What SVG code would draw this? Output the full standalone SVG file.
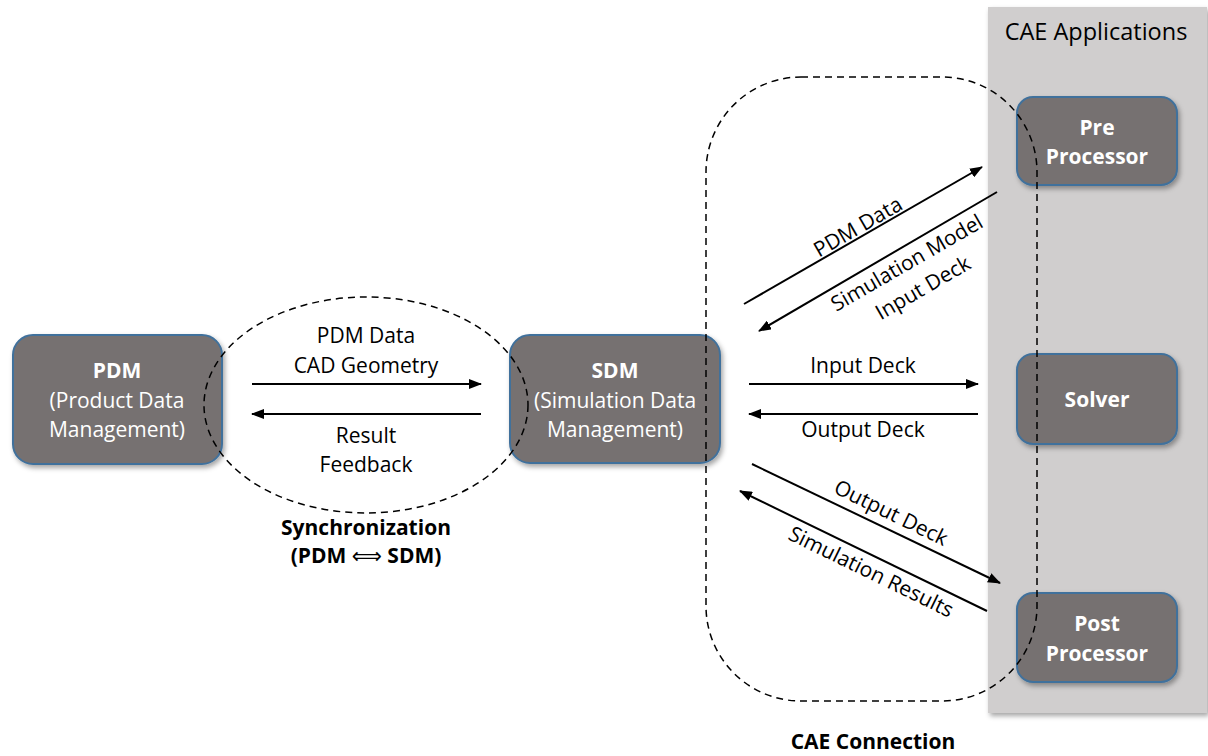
<svg xmlns="http://www.w3.org/2000/svg" width="1208" height="756" viewBox="0 0 1208 756">
<style>
text{font-family:"Open Sans","Liberation Sans",sans-serif;font-size:21px;fill:#000;text-anchor:middle}
.w{fill:#fff}
.b{font-weight:bold}
.box{fill:#767171;stroke:#41719C;stroke-width:2}
.ln{stroke:#000;stroke-width:2;fill:none;marker-end:url(#ah)}
.dash{fill:none;stroke:#000;stroke-width:1.5;stroke-dasharray:7 5}
</style>
<defs>
<marker id="ah" markerUnits="userSpaceOnUse" markerWidth="14" markerHeight="10" refX="12" refY="5" orient="auto"><path d="M0,0 L13,5 L0,10 z" fill="#000"/></marker>
<filter id="sh" x="-20%" y="-20%" width="140%" height="140%"><feDropShadow dx="2" dy="3" stdDeviation="2.5" flood-color="#000" flood-opacity="0.35"/></filter>
</defs>
<g id="cae-panel">
<rect x="988" y="7" width="219" height="706" fill="#D0CECE" filter="url(#sh)"/>
<text x="1096" y="40" style="font-size:23.5px">CAE Applications</text>
</g>
<g id="pdm">
<rect class="box" x="13" y="335" width="209" height="129" rx="20" filter="url(#sh)"/>
<text class="w b" x="117" y="378">PDM</text>
<text class="w" x="117" y="408">(Product Data</text>
<text class="w" x="117" y="437">Management)</text>
</g>
<g id="sdm">
<rect class="box" x="510" y="335" width="210" height="128" rx="20" filter="url(#sh)"/>
<text class="w b" x="615" y="378">SDM</text>
<text class="w" x="615" y="408">(Simulation Data</text>
<text class="w" x="615" y="437">Management)</text>
</g>
<g id="pre">
<rect class="box" x="1017" y="97" width="160" height="88" rx="16" filter="url(#sh)"/>
<text class="w b" x="1097" y="135">Pre</text>
<text class="w b" x="1097" y="164">Processor</text>
</g>
<g id="solver">
<rect class="box" x="1017" y="354" width="160" height="90" rx="16" filter="url(#sh)"/>
<text class="w b" x="1097" y="407">Solver</text>
</g>
<g id="post">
<rect class="box" x="1017" y="593" width="160" height="89" rx="16" filter="url(#sh)"/>
<text class="w b" x="1097" y="631">Post</text>
<text class="w b" x="1097" y="661">Processor</text>
</g>
<g id="sync-group">
<ellipse class="dash" cx="366" cy="405" rx="162" ry="108"/>
<text class="b" x="366" y="535">Synchronization</text>
<text class="b" x="366" y="563">(PDM <tspan style="font-family:'DejaVu Sans',sans-serif;font-weight:normal">⟺</tspan> SDM)</text>
</g>
<g id="cae-connection">
<rect class="dash" x="706" y="77" width="331" height="624" rx="95"/>
<text class="b" x="873" y="749">CAE Connection</text>
</g>
<g id="connectors">
<line class="ln" x1="252" y1="384" x2="481" y2="384"/>
<line class="ln" x1="481" y1="414" x2="252" y2="414"/>
<text x="366" y="343">PDM Data</text>
<text x="366" y="373">CAD Geometry</text>
<text x="366" y="443">Result</text>
<text x="366" y="472">Feedback</text>
<line class="ln" x1="749" y1="384" x2="978" y2="384"/>
<line class="ln" x1="978" y1="414" x2="749" y2="414"/>
<text x="863" y="373">Input Deck</text>
<text x="863" y="437">Output Deck</text>
<line class="ln" x1="744" y1="304" x2="982" y2="167"/>
<line class="ln" x1="997" y1="192" x2="759" y2="331"/>
<text transform="translate(858,227) rotate(-30)" y="7">PDM Data</text>
<text transform="translate(907,263) rotate(-30)" y="7">Simulation Model</text>
<text transform="translate(923,288) rotate(-30)" y="7">Input Deck</text>
<line class="ln" x1="752" y1="464" x2="1000" y2="583"/>
<line class="ln" x1="987" y1="611" x2="740" y2="491"/>
<text transform="translate(891,513) rotate(26)" y="7">Output Deck</text>
<text transform="translate(871,572) rotate(26)" y="7">Simulation Results</text>
</g>
</svg>
